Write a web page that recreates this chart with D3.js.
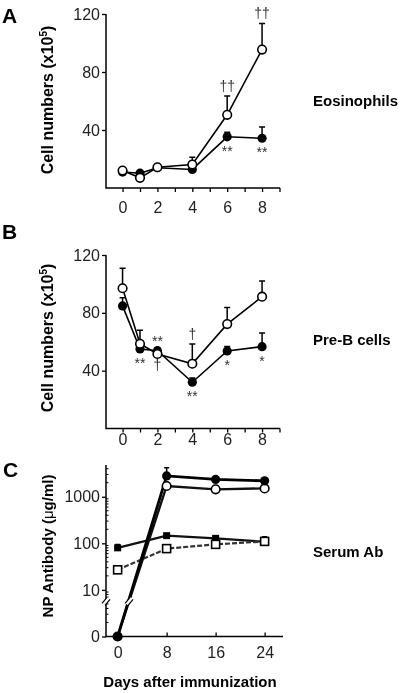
<!DOCTYPE html>
<html><head><meta charset="utf-8">
<script src="https://cdn.jsdelivr.net/npm/d3@7"></script>
<style>body{margin:0;background:#fff} svg{display:block;filter:grayscale(1)}</style>
</head><body>
<script>
// ---------- data ----------
const daysAB = [0, 1, 2, 4, 6, 8];
const dayTicksAB = [0, 1, 2, 3, 4, 5, 6, 7, 8, 9];
const dayLabelsAB = [0, 2, 4, 6, 8];
const cellTicks = [40, 80, 120];

const eosOpen = [12, 7, 14.3, 16.2, 50.5, 95.5];
const eosOpenErr = [0, 0, 0, 5, 13, 18];
const eosFilled = [11, 10.2, 14, 12.8, 35.3, 34.3];
const eosFilledErr = [0, 0, 0, 0, 3.2, 7.7];
const eosMarks = [
  {series: "open", day: 6, text: "††", side: "above"},
  {series: "open", day: 8, text: "††", side: "above"},
  {series: "filled", day: 6, text: "**", side: "below"},
  {series: "filled", day: 8, text: "**", side: "below"}
];

const preBOpen = [97, 58.6, 51.6, 44.8, 72.2, 91.2];
const preBOpenErr = [13.8, 9.4, 0, 13.6, 11.5, 10.8];
const preBFilled = [84.8, 55, 53.8, 32, 53.6, 56.6];
const preBFilledErr = [5.7, 0, 2, 3, 3.2, 9.4];
const preBMarks = [
  {series: "filled", day: 1, text: "**", side: "below"},
  {series: "filled", day: 2, text: "**", side: "above"},
  {series: "open", day: 2, text: "†", side: "below"},
  {series: "open", day: 4, text: "†", side: "above"},
  {series: "filled", day: 4, text: "**", side: "below"},
  {series: "filled", day: 6, text: "*", side: "below"},
  {series: "filled", day: 8, text: "*", side: "below"}
];

const daysC = [0, 8, 16, 24];
const abTicks = [1, 10, 100, 1000];
const abTickLabels = ["0", "10", "100", "1000"];
const serumFilledCircle = [0, 2800, 2350, 2200];
const serumFilledCircleErr = [0, 1400, 0, 0];
const serumOpenCircle = [0, 1700, 1440, 1510];
const serumOpenCircleErr = [0, 0, 0, 0];
const serumFilledSquare = [80, 146, 128, 108];
const serumFilledSquareErr = [14, 10, 6, 0];
const serumOpenSquare = [27, 77, 95, 110];
const serumOpenSquareErr = [0, 0, 0, 29];

// ---------- drawing ----------
const W = 400, H = 693;
const FONT = "'Liberation Sans', Arial, sans-serif";
const svg = d3.select("body").append("svg").attr("width", W).attr("height", H)
  .style("font-family", FONT);
svg.append("rect").attr("width", W).attr("height", H).attr("fill", "#fff");

function letter(t, x, y) {
  svg.append("text").attr("x", x).attr("y", y).text(t)
    .attr("font-size", 21).attr("font-weight", "bold");
}
function sideLabel(t, y) {
  svg.append("text").attr("x", 313).attr("y", y).text(t)
    .attr("font-size", 15).attr("font-weight", "bold");
}
function yTitle(cy, size, build) {
  const t = svg.append("text").attr("transform", `translate(53,${cy}) rotate(-90)`)
    .attr("text-anchor", "middle").attr("font-size", size).attr("font-weight", "bold");
  build(t);
}

function cellPanel(opts) {
  const x = d3.scaleLinear().domain([-0.95, 9]).range([106, 279.5]);
  const y = d3.scaleLinear().domain([0, 120]).range([opts.base, opts.top]);
  const g = svg.append("g");
  g.append("path").attr("d", `M106,${y(120)}V${opts.base}H280`)
    .attr("fill", "none").attr("stroke", "#000").attr("stroke-width", 1.5);
  const ya = g.append("g").attr("transform", "translate(106,0)")
    .call(d3.axisLeft(y).tickValues(cellTicks).tickSize(4).tickPadding(2));
  ya.select(".domain").remove();
  ya.selectAll("line").attr("stroke-width", 1.3);
  ya.selectAll("text").attr("font-size", 16).attr("font-family", FONT).attr("fill", "#222");
  const xa = g.append("g").attr("transform", `translate(0,${opts.base})`)
    .call(d3.axisBottom(x).tickValues(dayTicksAB).tickSize(4).tickPadding(opts.pad)
      .tickFormat(d => dayLabelsAB.includes(d) ? d : ""));
  xa.select(".domain").remove();
  xa.selectAll("line").attr("stroke-width", 1.3);
  xa.selectAll("text").attr("font-size", 16).attr("font-family", FONT).attr("fill", "#222");

  const series = {
    filled: {v: opts.filled, e: opts.filledErr},
    open: {v: opts.open, e: opts.openErr}
  };
  ["filled", "open"].forEach(k => {
    const s = series[k];
    daysAB.forEach((d, i) => {
      if (!s.e[i]) return;
      const x0 = x(d), y0 = y(s.v[i]), y1 = y(s.v[i] + s.e[i]);
      g.append("path").attr("d", `M${x0},${y0}V${y1}M${x0 - 3},${y1}H${x0 + 3}`)
        .attr("stroke", "#000").attr("stroke-width", 1.5).attr("fill", "none");
    });
  });
  const line = d3.line().x((d, i) => x(daysAB[i])).y(d => y(d));
  ["filled", "open"].forEach(k => {
    g.append("path").attr("d", line(series[k].v)).attr("fill", "none")
      .attr("stroke", "#000").attr("stroke-width", 1.6);
  });
  g.selectAll(".f").data(opts.filled).enter().append("circle")
    .attr("cx", (d, i) => x(daysAB[i])).attr("cy", d => y(d)).attr("r", 4.6)
    .attr("fill", "#000");
  g.selectAll(".o").data(opts.open).enter().append("circle")
    .attr("cx", (d, i) => x(daysAB[i])).attr("cy", d => y(d)).attr("r", 4.3)
    .attr("fill", "#fff").attr("stroke", "#000").attr("stroke-width", 1.6);

  opts.marks.forEach(m => {
    const s = series[m.series];
    const i = daysAB.indexOf(m.day);
    const cx = x(m.day);
    const isStar = m.text.includes("*");
    let ty;
    if (m.side === "above") {
      const top = y(s.v[i] + s.e[i]);
      ty = isStar ? top - 2 : top - 5;
    } else {
      ty = y(s.v[i]) + (isStar ? 19 : 16);
    }
    g.append("text").attr("x", cx).attr("y", ty).attr("text-anchor", "middle")
      .attr("font-size", 14).attr("fill", "#333").text(m.text);
  });
}

// Panel A
letter("A", 2, 23);
yTitle(100, 16, t => {
  t.append("tspan").text("Cell numbers (x10");
  t.append("tspan").text("5").attr("font-size", 10).attr("dy", -6);
  t.append("tspan").text(")").attr("dy", 6);
});
cellPanel({top: 14, base: 188, pad: 9.5, filled: eosFilled, filledErr: eosFilledErr,
  open: eosOpen, openErr: eosOpenErr, marks: eosMarks});
sideLabel("Eosinophils", 106);

// Panel B
letter("B", 2, 239);
yTitle(338, 16, t => {
  t.append("tspan").text("Cell numbers (x10");
  t.append("tspan").text("5").attr("font-size", 10).attr("dy", -6);
  t.append("tspan").text(")").attr("dy", 6);
});
cellPanel({top: 255, base: 428.5, pad: 1, filled: preBFilled, filledErr: preBFilledErr,
  open: preBOpen, openErr: preBOpenErr, marks: preBMarks});
sideLabel("Pre-B cells", 345);

// Panel C
letter("C", 3, 477);
yTitle(546, 15, t => {
  t.append("tspan").text("NP Antibody (");
  t.append("tspan").text("μ").attr("font-weight", "normal");
  t.append("tspan").text("g/ml)");
});
sideLabel("Serum Ab", 557);
(function () {
  const x = d3.scaleLinear().domain([-1.9, 27]).range([106, 283]);
  const y = d3.scaleLog().domain([1, 4800]).range([636.5, 465]);
  const yv = v => y(Math.max(v, 1));
  const g = svg.append("g");
  g.append("path").attr("d", `M106,465V636.5H283`).attr("fill", "none")
    .attr("stroke", "#000").attr("stroke-width", 1.5);
  const minors = [];
  [1, 10, 100, 1000].forEach(dec => { for (let k = 2; k <= 9; k++) if (dec * k < 4800) minors.push(dec * k); });
  g.selectAll(".mn").data(minors).enter().append("line")
    .attr("x1", 106).attr("x2", 108.5).attr("y1", d => y(d)).attr("y2", d => y(d))
    .attr("stroke", "#000").attr("stroke-width", 1);
  const ya = g.append("g").attr("transform", "translate(106,0)")
    .call(d3.axisLeft(y).tickValues(abTicks).tickSize(4).tickPadding(2)
      .tickFormat((d, i) => abTickLabels[i]));
  ya.select(".domain").remove();
  ya.selectAll("line").attr("stroke-width", 1.3);
  ya.selectAll("text").attr("font-size", 16).attr("font-family", FONT).attr("fill", "#222");
  const xa = g.append("g").attr("transform", "translate(0,636.5)")
    .call(d3.axisBottom(x).tickValues(daysC).tickSize(-4).tickPadding(10));
  xa.select(".domain").remove();
  xa.selectAll("line").attr("stroke-width", 1.3);
  xa.selectAll("text").attr("font-size", 16).attr("font-family", FONT).attr("fill", "#222");

  const allSeries = [
    {v: serumFilledSquare, e: serumFilledSquareErr, w: 2.2, dash: null, col: "#111"},
    {v: serumOpenSquare, e: serumOpenSquareErr, w: 2.2, dash: "5,2", col: "#333"},
    {v: serumOpenCircle, e: serumOpenCircleErr, w: 2.4, dash: null, col: "#111"},
    {v: serumFilledCircle, e: serumFilledCircleErr, w: 2.8, dash: null, col: "#000"}
  ];
  allSeries.forEach(s => {
    daysC.forEach((d, i) => {
      if (!s.e[i]) return;
      const x0 = x(d), y0 = yv(s.v[i]), y1 = yv(s.v[i] + s.e[i]);
      g.append("path").attr("d", `M${x0},${y0}V${y1}M${x0 - 2.5},${y1}H${x0 + 2.5}`)
        .attr("stroke", "#000").attr("stroke-width", 1.5).attr("fill", "none");
    });
  });
  const line = d3.line().x((d, i) => x(daysC[i])).y(d => yv(d));
  allSeries.forEach(s => {
    g.append("path").attr("d", line(s.v)).attr("fill", "none").attr("stroke", s.col)
      .attr("stroke-width", s.w).attr("stroke-dasharray", s.dash);
  });
  const breakY = y(5.7);
  const rx0 = x(daysC[0]), ry0 = yv(serumOpenCircle[0]);
  const rx1 = x(daysC[1]), ry1 = yv(serumOpenCircle[1]);
  const bx = rx0 + (ry0 - breakY) / (ry0 - ry1) * (rx1 - rx0);
  [106, bx].forEach(cx => {
    g.append("path").attr("d", `M${cx - 4},${breakY + 2}L${cx + 1},${breakY - 4}L${cx + 4},${breakY - 2}L${cx - 1},${breakY + 4}Z`)
      .attr("fill", "#fff").attr("stroke", "none");
    g.append("path").attr("d", `M${cx - 4},${breakY + 2}L${cx + 1},${breakY - 4}M${cx - 1},${breakY + 4}L${cx + 4},${breakY - 2}`)
      .attr("stroke", "#000").attr("stroke-width", 1.2).attr("fill", "none");
  });
  g.selectAll(".fs").data(serumFilledSquare).enter().append("rect")
    .attr("x", (d, i) => x(daysC[i]) - 3.5).attr("y", d => yv(d) - 3.5)
    .attr("width", 7).attr("height", 7).attr("fill", "#000");
  g.selectAll(".os").data(serumOpenSquare).enter().append("rect")
    .attr("x", (d, i) => x(daysC[i]) - 4).attr("y", d => yv(d) - 4)
    .attr("width", 8).attr("height", 8).attr("fill", "#fff").attr("stroke", "#000").attr("stroke-width", 1.6);
  g.selectAll(".oc").data(serumOpenCircle).enter().append("circle")
    .attr("cx", (d, i) => x(daysC[i])).attr("cy", d => yv(d)).attr("r", 4.3)
    .attr("fill", "#fff").attr("stroke", "#000").attr("stroke-width", 1.6);
  g.selectAll(".fc").data(serumFilledCircle).enter().append("circle")
    .attr("cx", (d, i) => x(daysC[i])).attr("cy", d => yv(d)).attr("r", 4.6)
    .attr("fill", "#000");
  svg.append("text").attr("x", 190).attr("y", 686.5).attr("text-anchor", "middle")
    .attr("font-size", 15).attr("font-weight", "bold").text("Days after immunization");
})();
</script>
</body></html>
